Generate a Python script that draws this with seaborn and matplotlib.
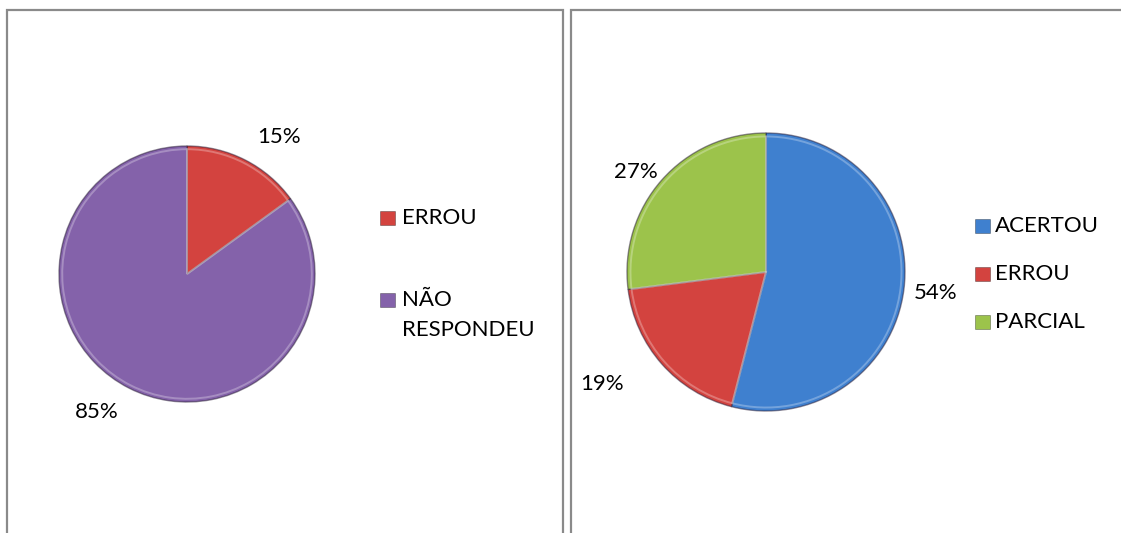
import numpy as np
import matplotlib
matplotlib.use("Agg")
import matplotlib.pyplot as plt
import seaborn as sns
from matplotlib.patches import Rectangle
from matplotlib.lines import Line2D

sns.set_style("white")
plt.rcParams["font.family"] = ["Lato", "DejaVu Sans"]

# Question results, in percent
left_categories = ["ERROU", "NÃO RESPONDEU"]
left_values = [15, 85]
right_categories = ["ACERTOU", "ERROU", "PARCIAL"]
right_values = [54, 19, 27]

palette = {"ACERTOU": "#3f80cf", "ERROU": "#d3433f",
           "PARCIAL": "#9cc34b", "NÃO RESPONDEU": "#8462aa"}

W, H = 1121, 533
fig = plt.figure(figsize=(W / 100, H / 100), dpi=100)
fig.patch.set_facecolor("white")
FS = 16


def fx(x):
    return x / W


def fy(y):
    return 1 - y / H


def pie_axes(cx, cy, r):
    return fig.add_axes([fx(cx - r), fy(cy + r), 2 * r / W, 2 * r / H])


def draw_pie(ax, cats, values, dists, shifts):
    colors = [palette[c] for c in cats]
    wedges, _, pcts = ax.pie(
        values, colors=colors, startangle=90, counterclock=False,
        autopct="%.0f%%",
        wedgeprops=dict(edgecolor=(0.15, 0.1, 0.2, 0.5), linewidth=1.0),
        textprops=dict(fontsize=FS, color="black"))
    # soft bevel highlight just inside each slice edge
    ax.pie(values, startangle=90, counterclock=False, radius=0.975,
           colors=["none"] * len(values),
           wedgeprops=dict(edgecolor=(1, 1, 1, 0.28), linewidth=1.4,
                           fill=False))
    for w, t, d, s in zip(wedges, pcts, dists, shifts):
        ang = np.deg2rad((w.theta1 + w.theta2) / 2 + s)
        t.set_position((d * np.cos(ang), d * np.sin(ang)))
        t.set_clip_on(False)
    ax.set_xlim(-1, 1)
    ax.set_ylim(-1, 1)
    ax.set_aspect("equal")
    ax.axis("off")


def draw_legend(cats, x_marker, x_text, ys, line_gap=30):
    for cat, y in zip(cats, ys):
        fig.add_artist(Rectangle((fx(x_marker), fy(y + 7)), 15 / W, 14 / H,
                                 transform=fig.transFigure,
                                 facecolor=palette[cat],
                                 edgecolor=(0, 0, 0, 0.35), linewidth=0.6))
        lines = cat.split(" ") if len(cat) > 10 else [cat]
        for k, line in enumerate(lines):
            fig.text(fx(x_text), fy(y + k * line_gap), line, fontsize=FS,
                     va="center", ha="left", color="black")


def border(points):
    xs = [fx(p[0]) for p in points]
    ys = [fy(p[1]) for p in points]
    fig.add_artist(Line2D(xs, ys, transform=fig.transFigure,
                          color="#8a8a8a", linewidth=1.6,
                          solid_joinstyle="miter"))


# Panel frames
border([(7, 540), (7, 9.5), (562.5, 9.5), (562.5, 540)])
border([(571, 540), (571, 9.5), (1130, 9.5)])

# Left chart
ax1 = pie_axes(187, 274, 128)
draw_pie(ax1, left_categories, left_values, [1.29, 1.29], [-7, -6])
draw_legend(left_categories, 380, 402, [218, 300])

# Right chart
ax2 = pie_axes(766, 272, 139)
draw_pie(ax2, right_categories, right_values, [1.23, 1.43, 1.18], [0, -7, 4])
draw_legend(right_categories, 975, 995, [226, 274, 322])

fig.savefig("out.png", dpi=100, facecolor="white")
